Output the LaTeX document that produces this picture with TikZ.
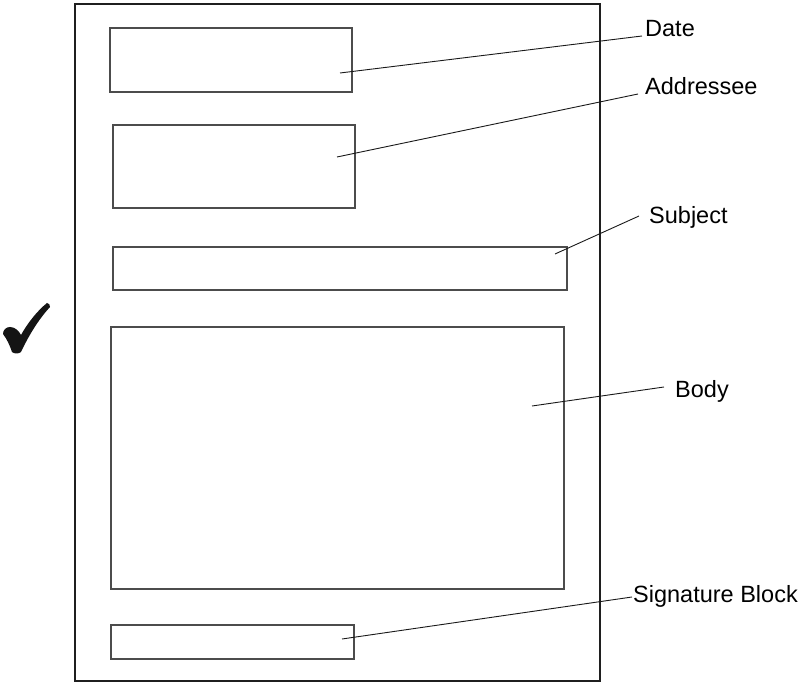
\documentclass[tikz,border=0pt]{standalone}
\usepackage{fontspec}
\setmainfont{Liberation Sans}
\begin{document}
\begin{tikzpicture}[x=1pt,y=-1pt,
  page/.style={draw=black!88,line width=2.8pt},
  field/.style={draw=black!70,line width=1.1pt},
  leader/.style={draw=black!90,line width=0.9pt},
  label/.style={anchor=base west,inner sep=0pt,font=\fontsize{23.5}{27}\selectfont}]
\useasboundingbox (0,0) rectangle (803,684);

% sheet of paper
\draw[page] (75,4) rectangle (600,681);

% fields of the letter
\draw[field] (110,28)  rectangle (352,92)  coordinate (dateBox);
\draw[field] (113,125) rectangle (355,208) coordinate (addrBox);
\draw[field] (113,247) rectangle (567,290) coordinate (subjBox);
\draw[field] (111,327) rectangle (564,589) coordinate (bodyBox);
\draw[field] (111,625) rectangle (354,659) coordinate (sigBox);

% labels
\node[label] (dateL) at (645,37)  {Date};
\node[label] (addrL) at (645,95)  {Addressee};
\node[label] (subjL) at (649,224) {Subject};
\node[label] (bodyL) at (675,397) {Body};
\node[label] (sigL)  at (633,602) {Signature Block};

% leader lines from each field to its label
\coordinate (dateP) at (340,73);   \coordinate (dateE) at (642,36);
\coordinate (addrP) at (337,157);  \coordinate (addrE) at (638,94);
\coordinate (subjP) at (555,254);  \coordinate (subjE) at (639,216);
\coordinate (bodyP) at (532,406);  \coordinate (bodyE) at (664,387);
\coordinate (sigP)  at (342,639);  \coordinate (sigE)  at (632,597);
\draw[leader] (dateP) -- (dateE);
\draw[leader] (addrP) -- (addrE);
\draw[leader] (subjP) -- (subjE);
\draw[leader] (bodyP) -- (bodyE);
\draw[leader] (sigP)  -- (sigE);

% check mark
\fill[black!92] (47,303)
  .. controls (37,311) and (27,324) .. (21,335)
  .. controls (19,331) and (15,327) .. (10,327)
  .. controls (6,327) and (3,330) .. (3,334)
  .. controls (7,339) and (10,346) .. (12,352)
  .. controls (14,354) and (19,354) .. (21,352)
  .. controls (28,337) and (38,320) .. (50,307)
  .. controls (50,305) and (49,303) .. (47,303) -- cycle;
\end{tikzpicture}
\end{document}
